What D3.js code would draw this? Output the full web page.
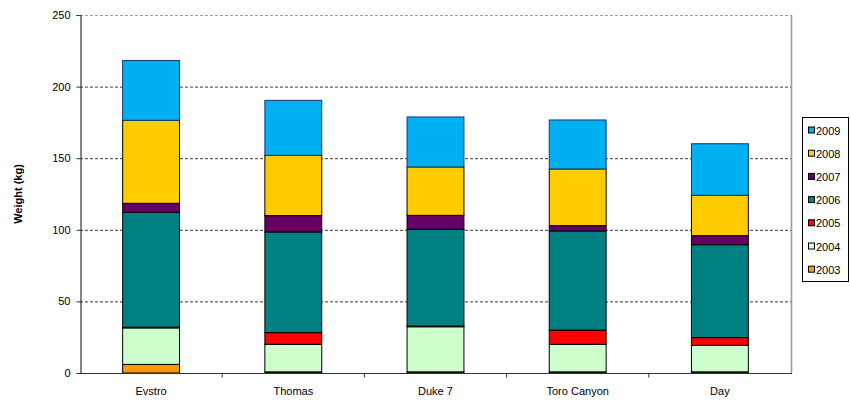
<!DOCTYPE html>
<html>
<head>
<meta charset="utf-8">
<script src="https://cdn.jsdelivr.net/npm/d3@7/dist/d3.min.js"></script>
<style>
  html, body { margin: 0; padding: 0; background: #fff; }
  svg { display: block; font-family: "Liberation Sans", Arial, sans-serif; }
</style>
</head>
<body>
<svg id="chart" width="850" height="405"></svg>
<script>
// Harvest weight per variety, broken down by year
const varieties = ["Evstro", "Thomas", "Duke 7", "Toro Canyon", "Day"];
const years = ["2003", "2004", "2005", "2006", "2007", "2008", "2009"];
const w2003 = [6.0, 0.8, 0.8, 0.8, 0.8];
const w2004 = [25.5, 19.2, 31.5, 19.2, 18.5];
const w2005 = [0.5, 8.2, 0.5, 10.0, 5.4];
const w2006 = [80.2, 70.3, 67.6, 69.2, 64.9];
const w2007 = [6.3, 11.4, 9.7, 3.7, 6.3];
const w2008 = [58.0, 42.1, 33.8, 39.6, 28.2];
const w2009 = [41.7, 38.4, 34.9, 34.2, 36.0];
const yTicks = [0, 50, 100, 150, 200, 250];
const yearColors = ["#FF9900", "#CCFFCC", "#FF0000", "#008080", "#660066", "#FFCC00", "#00B0F0"];

const seriesValues = [w2003, w2004, w2005, w2006, w2007, w2008, w2009];
const rows = varieties.map((v, i) => {
  const r = { variety: v };
  years.forEach((y, k) => { r[y] = seriesValues[k][i]; });
  return r;
});

const svg = d3.select("#chart");
const plotLeft = 80, plotRight = 791, plotTop = 15, plotBottom = 373;

const x = d3.scaleBand().domain(varieties).range([plotLeft, plotRight]).paddingInner(0.6).paddingOuter(0.3);
const y = d3.scaleLinear().domain([0, 250]).range([plotBottom, plotTop]);
const color = d3.scaleOrdinal().domain(years).range(yearColors);

// gridlines
svg.append("g")
  .selectAll("line")
  .data(yTicks.filter(t => t > 0))
  .join("line")
  .attr("x1", plotLeft).attr("x2", plotRight)
  .attr("y1", d => y(d) + 0.5).attr("y2", d => y(d) + 0.5)
  .attr("stroke", d => d === 250 ? "#a0a0a0" : "#3a3a3a")
  .attr("stroke-width", 1)
  .attr("stroke-dasharray", "3,2");

// right border of plot area
svg.append("line")
  .attr("x1", plotRight + 0.5).attr("x2", plotRight + 0.5)
  .attr("y1", plotTop).attr("y2", plotBottom)
  .attr("stroke", "#9a9a9a").attr("stroke-width", 1.5);

// stacked bars
const stack = d3.stack().keys(years);
const layers = stack(rows);

svg.append("g")
  .selectAll("g")
  .data(layers)
  .join("g")
  .attr("fill", d => color(d.key))
  .attr("stroke", d => d.key === "2009" ? "#1a3570" : "#000")
  .selectAll("rect")
  .data(d => d)
  .join("rect")
  .attr("x", d => x(d.data.variety))
  .attr("y", d => y(d[1]))
  .attr("width", x.bandwidth())
  .attr("height", d => y(d[0]) - y(d[1]))
  .attr("stroke-width", 1);

// y axis
const yAxis = d3.axisLeft(y).tickValues(yTicks).tickSize(4).tickPadding(6);
const gy = svg.append("g").attr("transform", `translate(${plotLeft + 0.5},0)`).call(yAxis);
gy.select(".domain").attr("stroke", "#333").attr("stroke-width", 1.2);
gy.selectAll(".tick line").attr("stroke", "#333");
gy.selectAll("text").attr("font-size", 11).attr("fill", "#000");

// x axis with category separator ticks
const gx = svg.append("g").attr("transform", `translate(0,${plotBottom + 0.5})`);
gx.append("line").attr("x1", plotLeft).attr("x2", plotRight + 1)
  .attr("stroke", "#333").attr("stroke-width", 1.2);
const step = x.step();
gx.selectAll(".sep")
  .data(varieties.slice(1))
  .join("line")
  .attr("class", "sep")
  .attr("x1", d => x(d) - (step - x.bandwidth()) / 2)
  .attr("x2", d => x(d) - (step - x.bandwidth()) / 2)
  .attr("y1", 0).attr("y2", 4)
  .attr("stroke", "#333");
gx.selectAll("text")
  .data(varieties)
  .join("text")
  .attr("x", d => x(d) + x.bandwidth() / 2)
  .attr("y", 21)
  .attr("text-anchor", "middle")
  .attr("font-size", 11)
  .text(d => d);

// y axis title
svg.append("text")
  .attr("transform", `translate(22,${(plotTop + plotBottom) / 2}) rotate(-90)`)
  .attr("text-anchor", "middle")
  .attr("font-size", 11)
  .attr("font-weight", "bold")
  .text("Weight (kg)");

// legend
const legend = svg.append("g");
legend.append("rect")
  .attr("x", 802.5).attr("y", 117.5)
  .attr("width", 46).attr("height", 164)
  .attr("fill", "#fff").attr("stroke", "#000").attr("stroke-width", 1);
const legendYears = years.slice().reverse();
const items = legend.selectAll(".item")
  .data(legendYears)
  .join("g")
  .attr("class", "item")
  .attr("transform", (d, i) => `translate(808,${130.5 + i * 23.2})`);
items.append("rect")
  .attr("x", 0.5).attr("y", -3.5)
  .attr("width", 6).attr("height", 6)
  .attr("fill", d => color(d))
  .attr("stroke", "#000").attr("stroke-width", 1);
items.append("text")
  .attr("x", 8).attr("y", 4)
  .attr("font-size", 11)
  .text(d => d);
</script>
</body>
</html>
